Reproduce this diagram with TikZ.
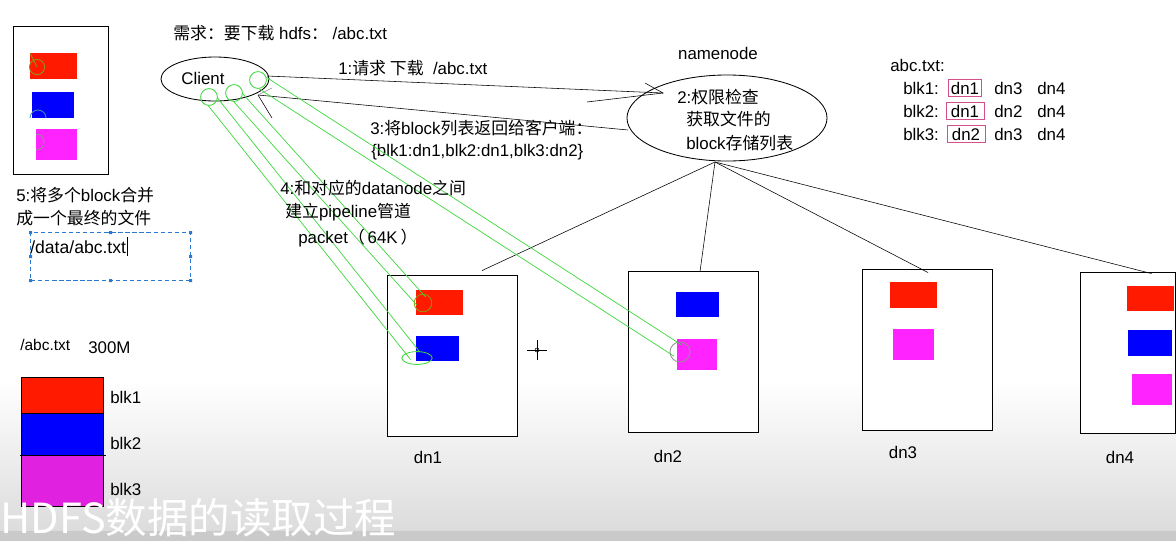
\documentclass[tikz,border=0pt]{standalone}
\usepackage{fontspec}
\setmainfont{Liberation Sans}
\newfontfamily\cjk{Noto Sans CJK SC}
\usetikzlibrary{shapes.geometric,calc}
\definecolor{blkred}{HTML}{FF1A00}
\definecolor{blkblue}{HTML}{0000FF}
\definecolor{blkpink}{HTML}{FF24FF}
\definecolor{stackpink}{HTML}{E022E0}
\definecolor{pipegreen}{HTML}{3CD83C}
\definecolor{hitolive}{HTML}{8C9A10}
\definecolor{hitgrey}{HTML}{909090}
\definecolor{boxpink}{HTML}{D4508C}
\definecolor{selblue}{HTML}{2A78D0}
\definecolor{bgbot}{HTML}{DCDCDC}
\definecolor{bgband}{HTML}{CACACA}
\newcommand\zh[1]{{\cjk #1}}

\begin{document}
\begin{tikzpicture}[x=0.025cm, y=-0.025cm,
  txt/.style={anchor=west, inner sep=0pt, font=\fontsize{12}{14}\selectfont},
  lbl/.style={inner sep=0pt, font=\fontsize{12}{14}\selectfont},
  dnbox/.style={draw, fill=white, semithick, minimum width=3.25cm, minimum height=4.025cm, inner sep=0pt},
  pipe/.style={draw=pipegreen, line width=0.5pt, shorten <=4pt, shorten >=2pt},
  hit/.style={draw=pipegreen, line width=0.6pt},
  dnmark/.style={draw=boxpink, line width=0.6pt, inner xsep=2pt, inner ysep=1.5pt, font=\fontsize{12}{14}\selectfont}]
\useasboundingbox (0,0) rectangle (1176,541);
\fill[white] (0,0) rectangle (1176,381);
\shade[top color=white, bottom color=bgbot] (0,380) rectangle (1176,531);
\fill[bgband] (0,531) rectangle (1176,541);

% merged file on the client
\draw[semithick, fill=white] (13,26) rectangle (108,174);
\fill[blkred] (30,53) rectangle (77,79);
\fill[blkblue] (32,92) rectangle (74,118);
\fill[blkpink] (36,129) rectangle (77,160);
\draw[hitolive, line width=0.6pt] (37,67) circle [radius=0.19cm];
\draw[hitolive, line width=0.6pt] (30,53) -- (37,67);
\draw[cyan!70!black, line width=0.6pt] (30,118) arc (180:0:0.2cm);
\draw[hitgrey, line width=0.6pt] (36,134) arc (90:-90:0.2cm);

\node[txt] (title) at (173,33) {\zh{需求：要下载} hdfs\zh{：} /abc.txt};

\node[draw, ellipse, semithick, minimum width=2.7cm, minimum height=1.1cm] (client) at (215,79) {};
\node[lbl] (clientlbl) at (203,78) {Client};

\node[lbl] (nnlbl) at (718,53) {namenode};
\node[draw, ellipse, semithick, minimum width=5cm, minimum height=2.15cm] (nn) at (727,118) {};
\node[txt] (nn1) at (677,97) {2:\zh{权限检查}};
\node[txt] (nn2) at (686,119) {\zh{获取文件的}};
\node[txt] (nn3) at (686,143) {block\zh{存储列表}};

% 1: request
\coordinate (a1s) at (267,76);
\coordinate (a1e) at (663,93);
\coordinate (a1b) at (645,83);
\coordinate (a1c) at (587,102);
\draw (a1s) -- (a1e);
\draw (a1b) -- (a1e) -- (a1c);
\node[txt] (req) at (338,68) {1:\zh{请求 下载} \ /abc.txt};

% 3: block list back
\coordinate (a3s) at (628,130);
\coordinate (a3e) at (258,95);
\coordinate (a3b) at (272,118);
\coordinate (a3c) at (272,88);
\draw (a3s) -- (a3e);
\draw (a3b) -- (a3e);
\draw[hitgrey] (a3c) -- (a3e);
\node[txt] (ret1) at (370,128) {3:\zh{将}block\zh{列表返回给客户端：}};
\node[txt] (ret2) at (371,152) {\{blk1:dn1,blk2:dn1,blk3:dn2\}};

% block table
\node[txt] (tbl) at (890,65) {abc.txt:};
\node[txt] (r1) at (903,88) {blk1:};
\node[dnmark] (m1) at (965,88) {dn1};
\node[txt] (r1b) at (994,88) {dn3};
\node[txt] (r1c) at (1037,88) {dn4};
\node[txt] (r2) at (903,111) {blk2:};
\node[dnmark, inner xsep=3.5pt] (m2) at (965,111) {dn1};
\node[txt] (r2b) at (994,111) {dn2};
\node[txt] (r2c) at (1037,111) {dn4};
\node[txt] (r3) at (903,134) {blk3:};
\node[dnmark, inner xsep=3.5pt] (m3) at (966,134) {dn2};
\node[txt] (r3b) at (994,134) {dn3};
\node[txt] (r3c) at (1037,134) {dn4};

% datanodes
\node[dnbox] (dn1) at (452,355.5) {};
\node[dnbox] (dn2) at (693,351.5) {};
\node[dnbox] (dn3) at (927,349.5) {};
\node[dnbox, minimum width=2.375cm] (dn4) at (1127.5,352.5) {};
\fill[blkred] (416,290) rectangle (463,315);
\fill[blkblue] (416,336) rectangle (459,361);
\fill[blkblue] (676,292) rectangle (719,317);
\fill[blkpink] (677,339) rectangle (717,370);
\fill[blkred] (890,282) rectangle (937,308);
\fill[blkpink] (893,329) rectangle (934,360);
\fill[blkred] (1127,286) rectangle (1174,311);
\fill[blkblue] (1128,330) rectangle (1172,356);
\fill[blkpink] (1132,374) rectangle (1172,405);
\node[lbl] (dn1lbl) at (428,457) {dn1};
\node[lbl] (dn2lbl) at (668,456) {dn2};
\node[lbl] (dn3lbl) at (903,452) {dn3};
\node[lbl] (dn4lbl) at (1120,457) {dn4};

\coordinate (nnb) at (715,162);
\draw (nnb) -- ($(dn1.north)+(30,-4)$);
\draw (nnb) -- ($(dn2.north)+(7,1)$);
\draw (nnb) -- ($(dn3.north)+(1,4)$);
\draw (nnb) -- ($(dn4.north)+(24,2)$);

% 4: pipelines
\coordinate (c1) at (209,97);
\coordinate (c2) at (234,93);
\coordinate (c3) at (258,80);
\coordinate (p1) at (417,358);
\coordinate (p2) at (423,303);
\coordinate (p3) at (680,352);
\draw[hit] (c1) circle [radius=0.21cm];
\draw[hit] (c2) circle [radius=0.21cm];
\draw[hit] (c3) circle [radius=0.21cm];
\draw[hit] (p1) ellipse [x radius=0.38cm, y radius=0.16cm];
\draw[hitolive, line width=0.6pt] (p2) circle [radius=0.22cm];
\draw[hitgrey, line width=0.6pt] (p3) circle [radius=0.25cm];
\draw[pipe] ($(c1)!0.15cm!90:(p1)$) -- ($(p1)!0.15cm!-90:(c1)$);
\draw[pipe] ($(c1)!0.15cm!-90:(p1)$) -- ($(p1)!0.15cm!90:(c1)$);
\draw[pipe] ($(c2)!0.15cm!90:(p2)$) -- ($(p2)!0.15cm!-90:(c2)$);
\draw[pipe] ($(c2)!0.15cm!-90:(p2)$) -- ($(p2)!0.15cm!90:(c2)$);
\draw[pipe] ($(c3)!0.17cm!90:(p3)$) -- ($(p3)!0.17cm!-90:(c3)$);
\draw[pipe] ($(c3)!0.17cm!-90:(p3)$) -- ($(p3)!0.17cm!90:(c3)$);
\node[txt] (pl1) at (280,188) {4:\zh{和对应的}datanode\zh{之间}};
\node[txt] (pl2) at (285,212) {\zh{建立}pipeline\zh{管道}};
\node[txt] (pl3) at (298,238) {packet\zh{（}\,64K\,\zh{）}};

% 5: merge
\node[txt] (mg1) at (16,195) {5:\zh{将多个}block\zh{合并}};
\node[txt] (mg2) at (16,218) {\zh{成一个最终的文件}};
\draw[selblue, densely dashed, line width=0.6pt] (30,232) rectangle (190,280);
\fill[selblue] (29,231) rectangle +(3,3) (109,231) rectangle +(3,3) (189,231) rectangle +(3,3)
  (29,255) rectangle +(3,3) (189,255) rectangle +(3,3)
  (29,279) rectangle +(3,3) (109,279) rectangle +(3,3) (189,279) rectangle +(3,3);
\node[txt, font=\fontsize{12.5}{14}\selectfont] (dst) at (30,247) {/data/abc.txt};
\draw[line width=0.9pt] ($(dst.east)+(1,-10)$) -- ($(dst.east)+(1,9)$);

% the file and its blocks
\node[txt, font=\fontsize{11}{13}\selectfont] (src) at (20,345) {/abc.txt};
\node[txt] (size) at (88,348) {300M};
\draw[fill=blkred] (21,377) rectangle (103,413);
\draw[fill=blkblue] (21,413) rectangle (103,455);
\draw[fill=stackpink] (21,455) rectangle (103,506);
\draw (20,455) -- (106,455);
\node[txt] (b1) at (110,397) {blk1};
\node[txt] (b2) at (110,443) {blk2};
\node[txt] (b3) at (110,489) {blk3};

\draw (527,350) -- (547,350) (537,340) -- (537,360);
\draw (537,350) circle [radius=0.05cm];

\node[anchor=west, inner sep=0pt, text=white, font=\cjk\fontsize{29.5}{31}\selectfont] (wm) at (0,518) {HDFS数据的读取过程};
\end{tikzpicture}
\end{document}
